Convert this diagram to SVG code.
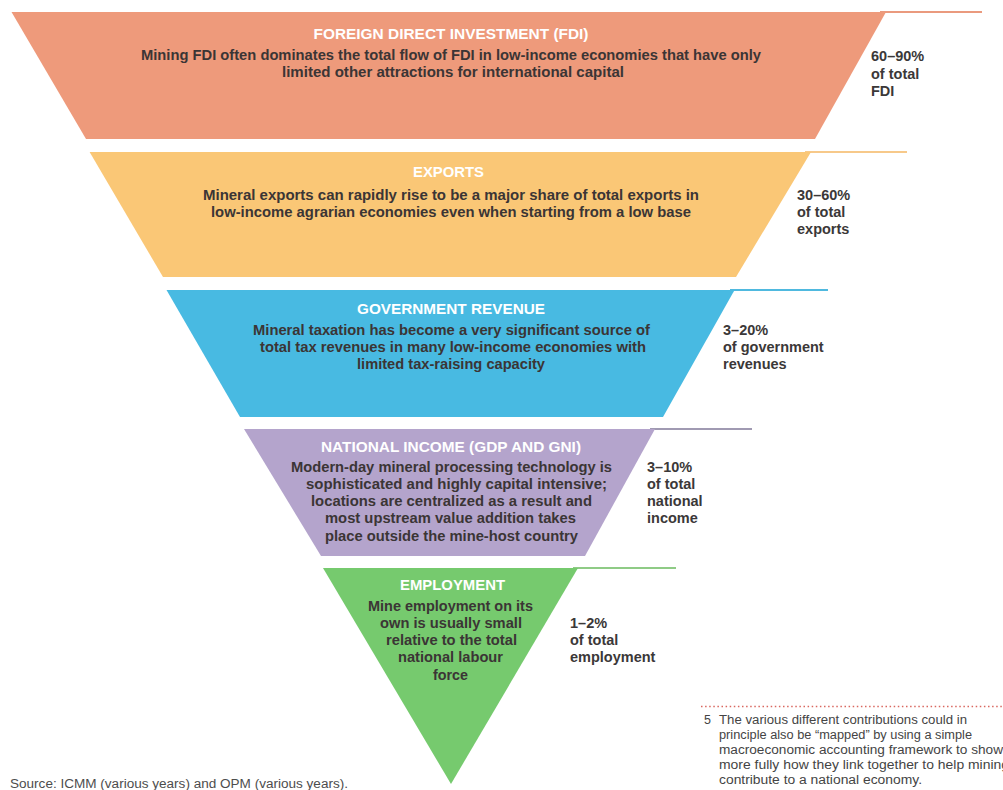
<svg xmlns="http://www.w3.org/2000/svg" width="1003" height="790" viewBox="0 0 1003 790">
<style>
.t{font-family:"Liberation Sans",Arial,sans-serif;font-weight:bold;font-size:15.5px;fill:#ffffff;text-anchor:middle}
.b{font-family:"Liberation Sans",Arial,sans-serif;font-weight:bold;font-size:14.2px;fill:#3b3535;text-anchor:middle}
.p{font-family:"Liberation Sans",Arial,sans-serif;font-weight:bold;font-size:14.5px;fill:#3b3838}
.src{font-family:"Liberation Sans",Arial,sans-serif;font-size:12.5px;fill:#4d4d4d}
.fn{font-family:"Liberation Sans",Arial,sans-serif;font-size:12.5px;fill:#444444}
.rule{stroke-width:2;fill:none}
</style>
<rect width="1003" height="790" fill="#ffffff"/>
<g id="rules">
<line class="rule" x1="880" y1="12" x2="982" y2="12" stroke="#ea9a7e"/>
<line class="rule" x1="805" y1="152" x2="907" y2="152" stroke="#f7c98a"/>
<line class="rule" x1="730" y1="290" x2="828" y2="290" stroke="#4fb9df"/>
<line class="rule" x1="650" y1="429" x2="752" y2="429" stroke="#a09ab2"/>
<line class="rule" x1="573" y1="568" x2="676" y2="568" stroke="#8fcb86"/>
</g>
<g id="fdi">
<polygon points="11.5,12 886,12 815,139 86,139" fill="#ee9a7b"/>
<text class="t" x="451" y="39" textLength="275" lengthAdjust="spacingAndGlyphs">FOREIGN DIRECT INVESTMENT (FDI)</text>
<text class="b" x="451" y="60" textLength="620" lengthAdjust="spacingAndGlyphs">Mining FDI often dominates the total flow of FDI in low-income economies that have only</text>
<text class="b" x="453" y="77" textLength="342" lengthAdjust="spacingAndGlyphs">limited other attractions for international capital</text>
<text class="p" x="871" y="61">60–90%</text>
<text class="p" x="871" y="78.5">of total</text>
<text class="p" x="871" y="96">FDI</text>
</g>
<g id="exports">
<polygon points="89.6,152 811,152 736,277 163,277" fill="#fac776"/>
<text class="t" x="448.5" y="177" textLength="71" lengthAdjust="spacingAndGlyphs">EXPORTS</text>
<text class="b" x="451" y="199.5" textLength="496" lengthAdjust="spacingAndGlyphs">Mineral exports can rapidly rise to be a major share of total exports in</text>
<text class="b" x="451" y="216.5" textLength="480" lengthAdjust="spacingAndGlyphs">low-income agrarian economies even when starting from a low base</text>
<text class="p" x="797" y="199.5">30–60%</text>
<text class="p" x="797" y="216.5">of total</text>
<text class="p" x="797" y="233.5">exports</text>
</g>
<g id="government-revenue">
<polygon points="166.5,290 734.6,290 663,417 240,417" fill="#48bae2"/>
<text class="t" x="451" y="314" textLength="188" lengthAdjust="spacingAndGlyphs">GOVERNMENT REVENUE</text>
<text class="b" x="451.5" y="334.5" textLength="397" lengthAdjust="spacingAndGlyphs">Mineral taxation has become a very significant source of</text>
<text class="b" x="453" y="351.5" textLength="386" lengthAdjust="spacingAndGlyphs">total tax revenues in many low-income economies with</text>
<text class="b" x="451" y="368.5" textLength="188" lengthAdjust="spacingAndGlyphs">limited tax-raising capacity</text>
<text class="p" x="723" y="335">3–20%</text>
<text class="p" x="723" y="352">of government</text>
<text class="p" x="723" y="369">revenues</text>
</g>
<g id="national-income">
<polygon points="244,429 655,429 585,556 321,556" fill="#b4a4cc"/>
<text class="t" x="451" y="452" textLength="260" lengthAdjust="spacingAndGlyphs">NATIONAL INCOME (GDP AND GNI)</text>
<text class="b" x="451.5" y="472" textLength="321" lengthAdjust="spacingAndGlyphs">Modern-day mineral processing technology is</text>
<text class="b" x="456.5" y="489" textLength="301" lengthAdjust="spacingAndGlyphs">sophisticated and highly capital intensive;</text>
<text class="b" x="451.5" y="506" textLength="281" lengthAdjust="spacingAndGlyphs">locations are centralized as a result and</text>
<text class="b" x="450.5" y="523" textLength="251" lengthAdjust="spacingAndGlyphs">most upstream value addition takes</text>
<text class="b" x="451.5" y="541" textLength="253" lengthAdjust="spacingAndGlyphs">place outside the mine-host country</text>
<text class="p" x="647" y="472">3–10%</text>
<text class="p" x="647" y="489">of total</text>
<text class="p" x="647" y="506">national</text>
<text class="p" x="647" y="522.5">income</text>
</g>
<g id="employment">
<polygon points="323,568 578,568 451,784" fill="#76ca6e"/>
<text class="t" x="452.5" y="590" textLength="105" lengthAdjust="spacingAndGlyphs">EMPLOYMENT</text>
<text class="b" x="450.5" y="611" textLength="165" lengthAdjust="spacingAndGlyphs">Mine employment on its</text>
<text class="b" x="451" y="628" textLength="142" lengthAdjust="spacingAndGlyphs">own is usually small</text>
<text class="b" x="451.5" y="645" textLength="131" lengthAdjust="spacingAndGlyphs">relative to the total</text>
<text class="b" x="450.5" y="662" textLength="105" lengthAdjust="spacingAndGlyphs">national labour</text>
<text class="b" x="450.5" y="680" textLength="35" lengthAdjust="spacingAndGlyphs">force</text>
<text class="p" x="570" y="628">1–2%</text>
<text class="p" x="570" y="645">of total</text>
<text class="p" x="570" y="662">employment</text>
</g>
<g id="connectors"></g>
<g id="source">
<text class="src" x="10" y="788" textLength="338" lengthAdjust="spacingAndGlyphs">Source: ICMM (various years) and OPM (various years).</text>
</g>
<g id="footnote">
<line x1="701" y1="706.5" x2="1003" y2="706.5" stroke="#d9675f" stroke-width="1.6" stroke-dasharray="1.5 2.6"/>
<text class="fn" x="704" y="724">5</text>
<text class="fn" x="719" y="724" textLength="248" lengthAdjust="spacingAndGlyphs">The various different contributions could in</text>
<text class="fn" x="719" y="739" textLength="253" lengthAdjust="spacingAndGlyphs">principle also be “mapped” by using a simple</text>
<text class="fn" x="719" y="754" textLength="284" lengthAdjust="spacingAndGlyphs">macroeconomic accounting framework to show</text>
<text class="fn" x="719" y="769" textLength="290" lengthAdjust="spacingAndGlyphs">more fully how they link together to help mining</text>
<text class="fn" x="719" y="784" textLength="203" lengthAdjust="spacingAndGlyphs">contribute to a national economy.</text>
</g>
</svg>
